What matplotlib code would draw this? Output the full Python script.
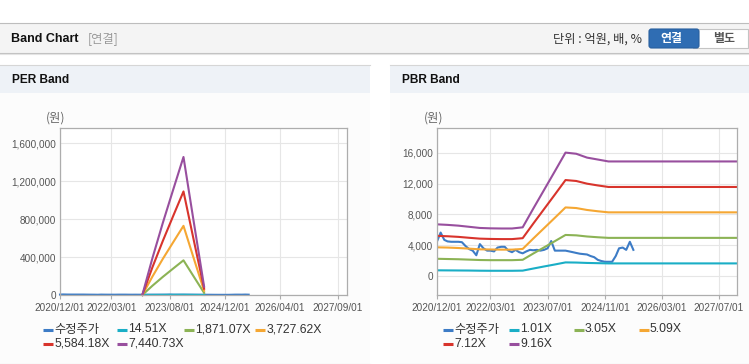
import pandas as pd
import numpy as np
import matplotlib
matplotlib.use('Agg')
import matplotlib.pyplot as plt
from matplotlib.patches import Rectangle, FancyBboxPatch

plt.rcParams['font.family'] = ['Liberation Sans', 'Noto Sans CJK KR', 'DejaVu Sans']

W, H = 749, 364

# 수정주가 (월별)
price_dates = pd.date_range('2020-12-01', periods=56, freq='MS')
price = [4500, 5650, 4700, 4500, 4450, 4450, 4450, 4400, 3900, 3500,
         3300, 2700, 4150, 3600, 3300, 3300, 3200, 3700, 3800, 3800,
         3300, 3100, 3400, 3100, 2950, 3200, 3400, 3350, 3400, 3300,
         3400, 3600, 4550, 3300, 3300, 3300, 3300, 3200, 3100, 3000,
         2900, 2850, 2800, 2600, 2450, 2100, 1950, 1850, 1850, 1850,
         2600, 3600, 3700, 3400, 4450, 3400]

# PER Band (분기)
per_dates = pd.to_datetime(['2022-12-01', '2023-03-01', '2023-06-01', '2023-09-01',
                            '2023-12-01', '2024-03-01', '2024-06-01'])
per_labels = ['14.51X', '1,871.07X', '3,727.62X', '5,584.18X', '7,440.73X']
per_14 = [0, 760, 1480, 2160, 2830, 1500, 170]
per_1871 = [0, 98000, 191000, 279000, 365000, 194000, 22000]
per_3727 = [0, 195000, 381000, 556000, 728000, 386000, 44000]
per_5584 = [0, 293000, 570000, 833000, 1090000, 578000, 66000]
per_7440 = [0, 390000, 760000, 1110000, 1453000, 770000, 88000]

# PBR Band (분기)
pbr_dates = pd.to_datetime(['2020-12-01', '2021-03-01', '2021-06-01', '2021-09-01',
                            '2021-12-01', '2022-03-01', '2022-06-01', '2022-09-01',
                            '2022-12-01', '2023-03-01', '2023-06-01', '2023-09-01',
                            '2023-12-01', '2024-03-01', '2024-06-01', '2024-09-01',
                            '2024-12-01', '2027-12-01'])
pbr_labels = ['1.01X', '3.05X', '5.09X', '7.12X', '9.16X']
pbr_101 = [740, 730, 720, 710, 690, 680, 680, 680, 700, 970, 1240, 1500,
           1770, 1750, 1700, 1670, 1640, 1640]
pbr_305 = [2240, 2210, 2180, 2130, 2080, 2060, 2060, 2060, 2110, 2920, 3720, 4530,
           5340, 5290, 5140, 5040, 4960, 4960]
pbr_509 = [3730, 3700, 3640, 3560, 3470, 3450, 3430, 3430, 3520, 4870, 6220, 7570,
           8920, 8840, 8590, 8420, 8280, 8280]
pbr_712 = [5220, 5170, 5090, 4970, 4860, 4820, 4800, 4800, 4920, 6810, 8700, 10590,
           12480, 12360, 12010, 11780, 11580, 11580]
pbr_916 = [6720, 6650, 6550, 6400, 6250, 6200, 6180, 6180, 6330, 8760, 11190, 13620,
           16050, 15900, 15400, 15150, 14900, 14900]

price_color = '#3d7cc6'
band_colors = ['#1aaec6', '#8cb355', '#f5a733', '#d8342c', '#984f9e']

per_xticks = ['2020-12-01', '2022-03-01', '2023-08-01', '2024-12-01', '2026-04-01', '2027-09-01']
pbr_xticks = ['2020-12-01', '2022-03-01', '2023-07-01', '2024-11-01', '2026-03-01', '2027-07-01']

fig = plt.figure(figsize=(W / 100, H / 100), dpi=100)
fig.patch.set_facecolor('white')

# 배경 (픽셀 좌표)
bg = fig.add_axes([0, 0, 1, 1], zorder=0)
bg.set_xlim(0, W)
bg.set_ylim(H, 0)
bg.axis('off')

kr = ['Noto Sans CJK KR', 'DejaVu Sans']

# 상단 헤더
bg.add_patch(Rectangle((0, 22.5), W, 30, fc='#f4f4f4', ec='none'))
bg.plot([0, W], [22.5, 22.5], color='#bdbdbd', lw=0.8)
bg.plot([0, W], [52.5, 52.5], color='#c2c2c2', lw=0.8)
bg.plot([0, W], [53.6, 53.6], color='#e4e4e4', lw=0.8)
bg.text(11, 38.5, 'Band Chart', fontsize=9, fontweight='bold', color='#111111', va='center')
bg.text(88, 38.5, '[연결]', fontsize=8.8, color='#9a9a9a', va='center', family=kr)
bg.text(642, 39, '단위 : 억원, 배, %', fontsize=8.8, color='#333333', va='center', ha='right',
        family=kr)
bg.add_patch(Rectangle((693, 28.5), 55, 19.5, fc='white', ec='#c4c4c4', lw=0.8))
bg.add_patch(FancyBboxPatch((649, 29), 50, 19, boxstyle='round,pad=0,rounding_size=2.5',
                            fc='#2f6db3', ec='#285f9e', lw=0.8))
bg.text(671, 38.5, '연결', fontsize=8.6, fontweight='bold', color='white', ha='center',
        va='center', family=kr)
bg.text(724.5, 38.5, '별도', fontsize=8.6, fontweight='bold', color='#555555', ha='center',
        va='center', family=kr)

# 패널
for x0, x1, title in [(0, 370, 'PER Band'), (390, W, 'PBR Band')]:
    bg.add_patch(Rectangle((x0, 64.5), x1 - x0, 299, fc='#fcfcfc', ec='none'))
    bg.add_patch(Rectangle((x0, 65), x1 - x0, 27.5, fc='#eef2f7', ec='none'))
    bg.plot([x0, x1], [64.5, 64.5], color='#d6d6d6', lw=0.8)
    bg.plot([x0, x1], [363.5, 363.5], color='#d0d0d0', lw=0.8)
    bg.text(x0 + 11.5, 80, title, fontsize=8.6, fontweight='bold', color='#111111', va='center')


def px_rect(l, t, r, b):
    return [l / W, 1 - b / H, (r - l) / W, (b - t) / H]


def setup_axes(ax, xlim, ylim, yticks, xticks):
    ax.set_facecolor('white')
    ax.set_xlim(pd.Timestamp(xlim[0]), pd.Timestamp(xlim[1]))
    ax.set_ylim(*ylim)
    ax.set_yticks(yticks)
    ax.set_yticklabels([f'{v:,}' for v in yticks])
    xt = pd.to_datetime(xticks)
    ax.set_xticks(xt)
    ax.set_xticklabels([d.strftime('%Y/%m/%d') for d in xt])
    ax.grid(True, color='#e6e6e6', lw=0.8)
    ax.set_axisbelow(True)
    for s in ax.spines.values():
        s.set_color('#adadad')
        s.set_linewidth(0.9)
    ax.tick_params(axis='y', length=0, pad=3, labelsize=7.2, labelcolor='#555555')
    ax.tick_params(axis='x', length=3, width=0.8, color='#adadad', pad=3,
                   labelsize=7.2, labelcolor='#555555')


# PER Band
ax1 = fig.add_axes(px_rect(60, 128, 347, 295), zorder=2)
setup_axes(ax1, ('2020-12-01', '2027-11-20'), (0, 1758000),
           [0, 400000, 800000, 1200000, 1600000], per_xticks)
ax1.plot(price_dates, price, color=price_color, lw=1.5, clip_on=False)
for vals, c in zip([per_14, per_1871, per_3727, per_5584, per_7440], band_colors):
    ax1.plot(per_dates, vals, color=c, lw=1.5, clip_on=False)

# PBR Band
ax2 = fig.add_axes(px_rect(437, 128, 737, 295), zorder=2)
setup_axes(ax2, ('2020-12-01', '2027-12-01'), (-2470, 19250),
           [0, 4000, 8000, 12000, 16000], pbr_xticks)
ax2.plot(price_dates, price, color=price_color, lw=1.5)
for vals, c in zip([pbr_101, pbr_305, pbr_509, pbr_712, pbr_916], band_colors):
    ax2.plot(pbr_dates, vals, color=c, lw=1.5)

# (원) 단위
for x in [55.5, 434]:
    bg.text(x, 118.5, '(원)', fontsize=8.8, color='#666666', ha='center', va='center',
            family=kr)

# 범례
legend_font = ['Liberation Sans', 'Noto Sans CJK KR', 'DejaVu Sans']
per_legend = [(43, 329.5), (116.5, 329.5), (183.5, 329.5), (255, 329.5), (43, 344), (116.5, 344)]
pbr_legend = [(443, 329.5), (509, 329.5), (573.5, 329.5), (638.5, 329.5), (443, 344), (509, 344)]
for pos, labels in [(per_legend, per_labels), (pbr_legend, pbr_labels)]:
    names = ['수정주가'] + labels
    colors = [price_color] + band_colors
    for (x, y), name, c in zip(pos, names, colors):
        bg.plot([x, x + 10], [y, y], color=c, lw=2.2, solid_capstyle='butt')
        bg.text(x + 11.5, y, name, fontsize=8.8, color='#333333', va='center', family=legend_font)

fig.savefig('out.png', dpi=100)
